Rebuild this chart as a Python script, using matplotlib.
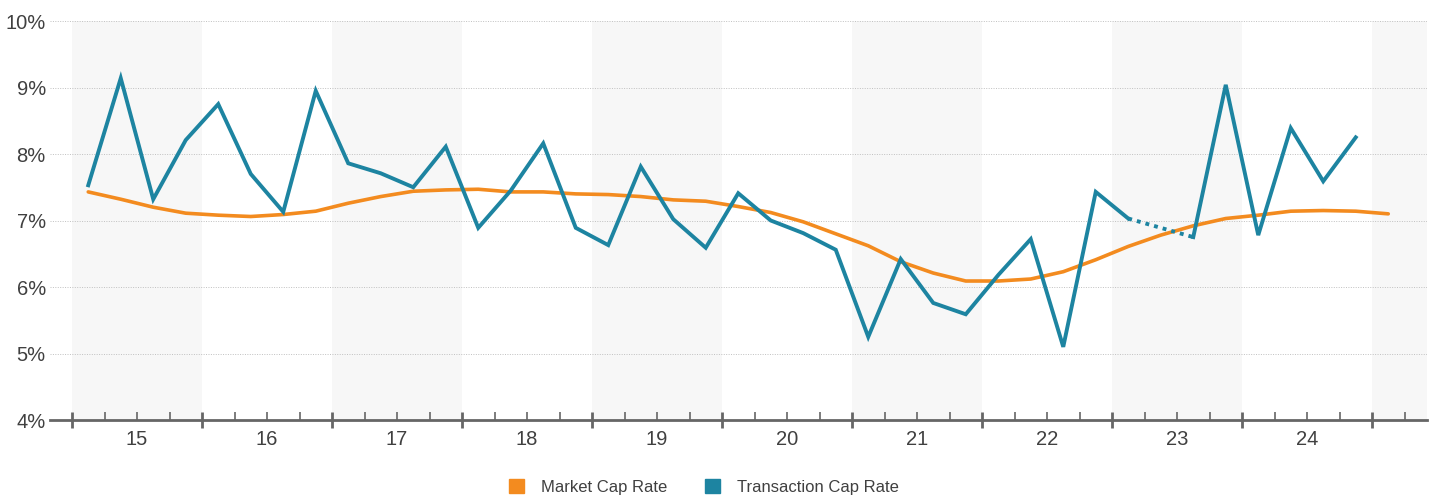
import numpy as np
import matplotlib.pyplot as plt
from matplotlib.patches import Patch

plt.rcParams['font.family'] = ['Liberation Sans', 'DejaVu Sans']

# quarterly data, 15Q1 .. 25Q1 (market), 15Q1 .. 24Q4 (transaction)
years = ['15', '16', '17', '18', '19', '20', '21', '22', '23', '24']

market_cap = [7.43, 7.32, 7.20, 7.11, 7.08, 7.06, 7.09, 7.14,
              7.26, 7.36, 7.44, 7.46, 7.47, 7.43, 7.43, 7.40,
              7.39, 7.36, 7.31, 7.29, 7.21, 7.12, 6.98, 6.80,
              6.62, 6.38, 6.21, 6.09, 6.09, 6.12, 6.23, 6.41,
              6.61, 6.78, 6.92, 7.03, 7.08, 7.14, 7.15, 7.14, 7.10]

# 23Q2 has no transaction value (bridged by a dotted line)
transaction_cap = [7.53, 9.14, 7.32, 8.21, 8.75, 7.70, 7.13, 8.95,
                   7.86, 7.71, 7.50, 8.11, 6.89, 7.45, 8.16, 6.89,
                   6.63, 7.81, 7.02, 6.59, 7.41, 7.00, 6.81, 6.56,
                   5.25, 6.42, 5.76, 5.59, 6.18, 6.72, 5.10, 7.43,
                   7.03, np.nan, 6.75, 9.04, 6.78, 8.39, 7.59, 8.25]

ORANGE = '#f38b1f'
BLUE = '#1d84a1'
GREY = '#666666'
TXT = '#404040'

xm = np.arange(len(market_cap)) + 0.5
xt = np.arange(len(transaction_cap)) + 0.5
tc = np.array(transaction_cap)

fig = plt.figure(figsize=(14.34, 4.98), dpi=100)
ax = fig.add_axes([50/1434, 1 - 420/498, 1377/1434, 399/498])

# alternating year shading
for k in range(0, 11, 2):
    ax.axvspan(4*k, 4*k + 4, color='#f7f7f7', lw=0, zorder=0)

for v in range(5, 11):
    ax.axhline(v, color='#c0c0c0', lw=0.7, ls=(0, (1, 1.5)), zorder=1)

ax.plot(xm, market_cap, color=ORANGE, lw=2.6, solid_capstyle='round', zorder=3)
ax.plot(xt, tc, color=BLUE, lw=2.8, solid_joinstyle='miter', zorder=4)

# dotted bridge over the missing quarter
gap = np.where(np.isnan(tc))[0]
for g in gap:
    ax.plot([xt[g-1], xt[g+1]], [tc[g-1], tc[g+1]], color=BLUE, lw=2.8,
            ls=(0, (1, 1.3)), zorder=4)

ax.set_xlim((50 - 72)/32.5, (1427 - 72)/32.5)
ax.set_ylim(4, 10)

for s in ['top', 'right', 'left']:
    ax.spines[s].set_visible(False)
ax.spines['bottom'].set_color(GREY)
ax.spines['bottom'].set_linewidth(2)

ax.set_yticks(range(4, 11))
ax.set_yticklabels([f'{v}%' for v in range(4, 11)], fontsize=14.5, color=TXT)
ax.tick_params(axis='y', length=0, pad=3)

ax.set_xticks(np.arange(0, 41, 4))
ax.set_xticks([q for q in range(42) if q % 4 != 0], minor=True)
ax.tick_params(axis='x', which='major', direction='inout', length=12, width=2,
               color=GREY, labelbottom=False)
ax.tick_params(axis='x', which='minor', direction='in', length=6, width=1.2,
               color=GREY)
for k, yr in enumerate(years):
    ax.text(4*k + 2, 3.7, yr, ha='center', va='center', fontsize=14.5,
            color=TXT, clip_on=False)

handles = [Patch(color=ORANGE, label='Market Cap Rate'),
           Patch(color=BLUE, label='Transaction Cap Rate')]
fig.legend(handles=handles, loc='center', bbox_to_anchor=(704/1434, 1 - 487/498),
           ncol=2, frameon=False, fontsize=12, handlelength=0.9, handleheight=0.9,
           columnspacing=2.3, handletextpad=1.0, labelcolor=TXT)

fig.savefig('out.png', dpi=100)
